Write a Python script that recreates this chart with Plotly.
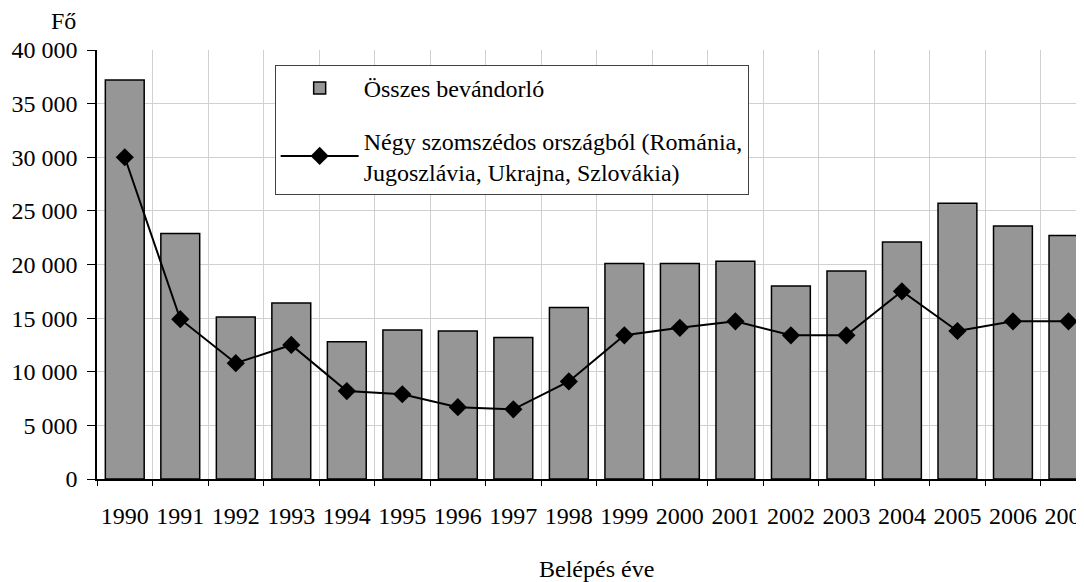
import plotly.graph_objects as go

years = ["1990", "1991", "1992", "1993", "1994", "1995", "1996", "1997", "1998",
         "1999", "2000", "2001", "2002", "2003", "2004", "2005", "2006", "2007"]
osszes = [37200, 22900, 15100, 16400, 12800, 13900, 13800, 13200, 16000,
          20100, 20100, 20300, 18000, 19400, 22100, 25700, 23600, 22700]
szomszed = [30000, 14900, 10800, 12500, 8200, 7900, 6700, 6500, 9100,
            13400, 14100, 14700, 13400, 13400, 17500, 13800, 14700, 14700]
y_ticks = [0, 5000, 10000, 15000, 20000, 25000, 30000, 35000, 40000]
y_ticktext = ["0", "5 000", "10 000", "15 000", "20 000", "25 000", "30 000", "35 000", "40 000"]

FONT = "Liberation Serif"

fig = go.Figure()
fig.add_trace(go.Bar(
    x=years, y=osszes, name="Összes bevándorló",
    marker=dict(color="#969696", line=dict(color="black", width=1.5)),
    width=0.7, legendgroup="a",
))
fig.add_trace(go.Scatter(
    x=years, y=szomszed, mode="lines+markers",
    name="Négy szomszédos országból (Románia,<br>Jugoszlávia, Ukrajna, Szlovákia)",
    line=dict(color="black", width=2),
    marker=dict(symbol="diamond", size=14, color="black"),
    legendgroup="b",
))

fig.update_layout(
    width=1076, height=574,
    margin=dict(l=89, r=0, t=42, b=103),
    plot_bgcolor="white", paper_bgcolor="white",
    font=dict(family=FONT, size=24, color="black"),
    showlegend=True,
    legend=dict(
        x=0.18, y=0.965, xanchor="left", yanchor="top",
        bgcolor="white", bordercolor="#404040", borderwidth=1,
        font=dict(family=FONT, size=24, color="black"),
        traceorder="grouped", tracegroupgap=18, itemwidth=78,
    ),
    xaxis=dict(
        type="category", range=[-0.5, 17.28],
        tickson="boundaries", ticks="outside", ticklen=5, tickcolor="black",
        showgrid=True, gridcolor="#d0d0d0", gridwidth=1,
        showline=True, linecolor="black", linewidth=1.5,
        tickfont=dict(family=FONT, size=24), tickangle=0, automargin=False,
        ticklabelstandoff=14,
    ),
    yaxis=dict(
        range=[0, 40000], tickvals=y_ticks, ticktext=y_ticktext,
        ticks="outside", ticklen=8, tickcolor="black",
        showgrid=True, gridcolor="#d0d0d0", gridwidth=1,
        showline=True, linecolor="black", linewidth=1.5, zeroline=False,
        tickfont=dict(family=FONT, size=24), automargin=False,
        ticklabelstandoff=5,
    ),
    annotations=[
        dict(text="Fő", xref="paper", yref="paper", x=-0.034, y=1.068,
             xanchor="center", yanchor="middle", showarrow=False,
             font=dict(family=FONT, size=24)),
        dict(text="Belépés éve", xref="paper", yref="paper", x=0.506, y=-0.21,
             xanchor="center", yanchor="middle", showarrow=False,
             font=dict(family=FONT, size=24)),
    ],
)

fig.write_html("out.html")
